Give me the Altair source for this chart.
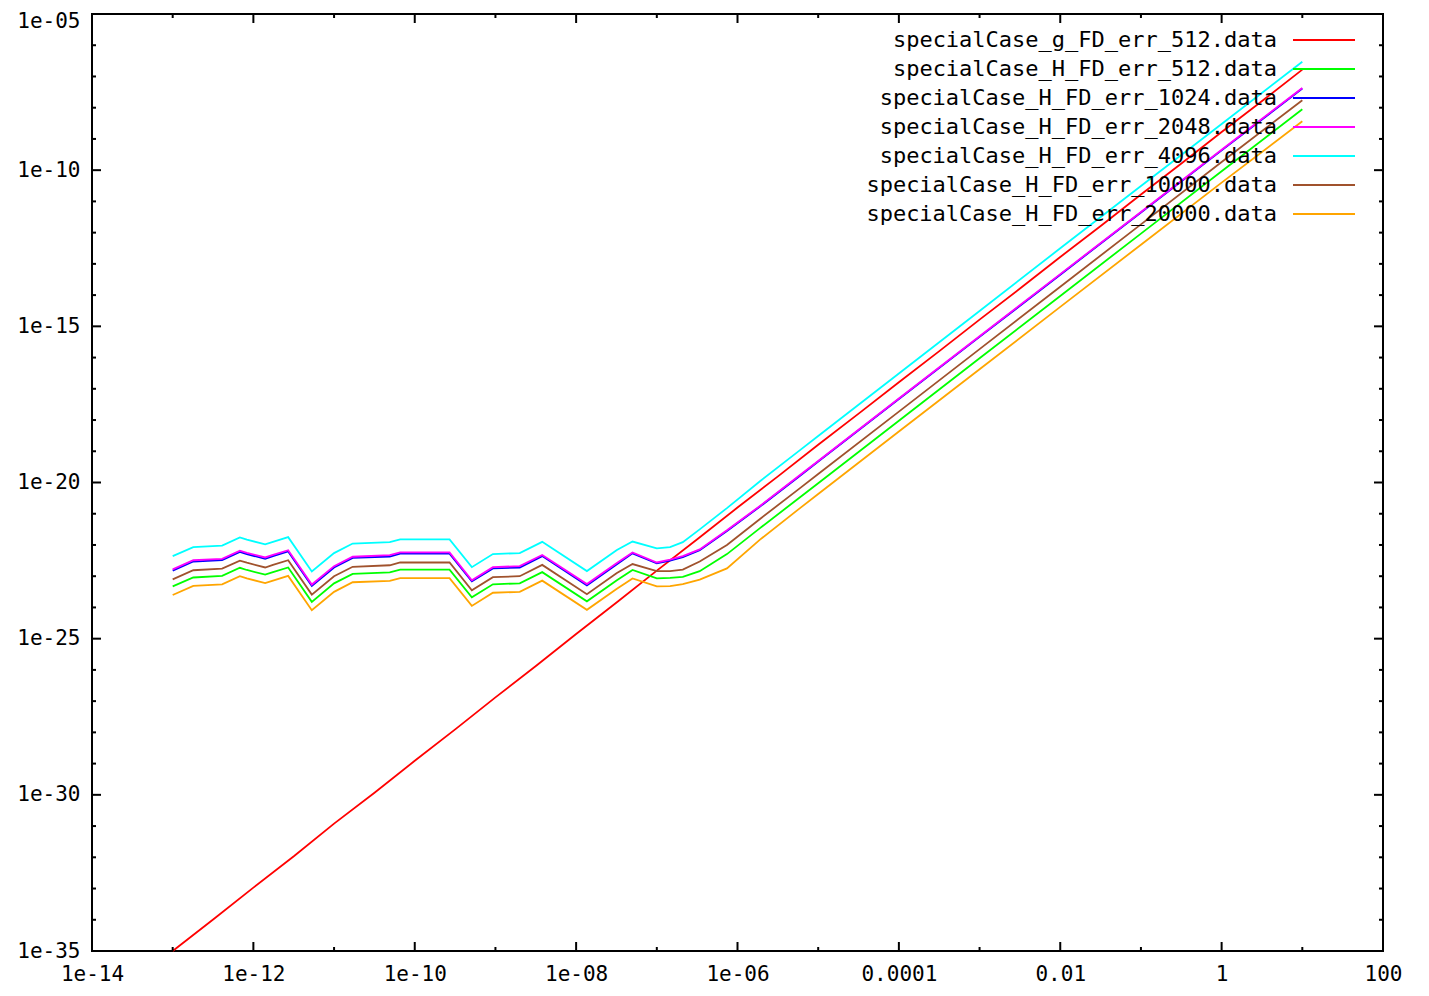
import altair as alt
import pandas as pd

FONT = "DejaVu Sans Mono"

# ---- data ----
labels = [
    "specialCase_g_FD_err_512.data",
    "specialCase_H_FD_err_512.data",
    "specialCase_H_FD_err_1024.data",
    "specialCase_H_FD_err_2048.data",
    "specialCase_H_FD_err_4096.data",
    "specialCase_H_FD_err_10000.data",
    "specialCase_H_FD_err_20000.data",
]
colors = ["#ff0000", "#00ff00", "#0000ff", "#ff00ff", "#00ffff", "#a0522d", "#ffa500"]

g_x = [1e-13, 3.2e-13, 1e-12, 3.2e-12, 1e-11, 3.2e-11, 1e-10, 3.2e-10, 1e-9, 3.2e-9,
       1e-8, 3.2e-8, 1e-7, 3.2e-7, 1e-6, 3.2e-6, 1e-5, 3.2e-5, 1e-4, 3.2e-4,
       1e-3, 3.2e-3, 1e-2, 3.2e-2, 0.1, 0.32, 1.0, 3.2, 10.0]
g512 = [1.0e-35, 1.04e-34, 1.07e-33, 1.1e-32, 1.2e-31, 1.19e-30, 1.23e-29, 1.27e-28, 1.32e-27, 1.36e-26,
        1.41e-25, 1.46e-24, 1.51e-23, 1.55e-22, 1.58e-21, 1.6e-20, 1.62e-19, 1.63e-18, 1.62e-17, 1.64e-16,
        1.64e-15, 1.65e-14, 1.66e-13, 1.66e-12, 1.66e-11, 1.67e-10, 1.67e-9, 1.67e-8, 1.66e-7]

h_x = [1e-13, 1.8e-13, 4.1e-13, 6.8e-13, 8.3e-13, 1.4e-12, 1.75e-12, 2.7e-12, 5.3e-12, 1.0e-11,
       1.7e-11, 4.9e-11, 6.6e-11, 2.7e-10, 5.1e-10, 9.3e-10, 2.0e-9, 3.8e-9, 1.36e-8, 3.2e-8,
       5.0e-8, 1.0e-7, 1.46e-7, 2.1e-7, 3.4e-7, 7.4e-7, 1.9e-6, 5.9e-6, 1e-5, 1e-4,
       1e-3, 1e-2, 1e-1, 1.0, 10.0]
h512 = [4.7e-24, 9.1e-24, 1.02e-23, 1.86e-23, 1.58e-23, 1.12e-23, 1.35e-23, 1.9e-23, 1.51e-24, 5.9e-24,
        1.19e-23, 1.32e-23, 1.62e-23, 1.62e-23, 2.1e-24, 5.5e-24, 5.9e-24, 1.35e-23, 1.57e-24, 7.4e-24,
        1.58e-23, 8.5e-24, 8.9e-24, 9.5e-24, 1.45e-23, 5.1e-23, 3.47e-22, 3.3e-21, 9.5e-21, 9.5e-19,
        9.5e-17, 9.4e-15, 9.3e-13, 9.2e-11, 8.9e-9]
h1024 = [1.51e-23, 2.95e-23, 3.3e-23, 6.0e-23, 5.1e-23, 3.6e-23, 4.4e-23, 6.2e-23, 4.9e-24, 1.9e-23,
         3.85e-23, 4.27e-23, 5.25e-23, 5.25e-23, 6.8e-24, 1.78e-23, 1.9e-23, 4.4e-23, 5.1e-24, 2.4e-23,
         5.4e-23, 2.57e-23, 3.16e-23, 4.07e-23, 6.8e-23, 2.8e-22, 1.7e-21, 1.62e-20, 4.7e-20, 4.7e-18,
         4.6e-16, 4.5e-14, 4.4e-12, 4.3e-10, 4.1e-8]
h2048 = [1.66e-23, 3.24e-23, 3.6e-23, 6.6e-23, 5.6e-23, 3.98e-23, 4.8e-23, 6.8e-23, 5.4e-24, 2.1e-23,
         4.2e-23, 4.7e-23, 5.75e-23, 5.75e-23, 7.4e-24, 1.95e-23, 2.1e-23, 4.8e-23, 5.6e-24, 2.63e-23,
         5.75e-23, 2.75e-23, 3.4e-23, 4.4e-23, 7.2e-23, 2.95e-22, 1.78e-21, 1.7e-20, 4.9e-20, 4.9e-18,
         4.8e-16, 4.7e-14, 4.6e-12, 4.5e-10, 4.3e-8]
h4096 = [4.4e-23, 8.5e-23, 9.5e-23, 1.74e-22, 1.48e-22, 1.05e-22, 1.26e-22, 1.78e-22, 1.41e-23, 5.5e-23,
         1.11e-22, 1.23e-22, 1.51e-22, 1.51e-22, 1.95e-23, 5.1e-23, 5.5e-23, 1.26e-22, 1.46e-23, 6.9e-23,
         1.29e-22, 7.8e-23, 8.5e-23, 1.23e-22, 3.16e-22, 1.51e-21, 1.10e-20, 1.07e-19, 3.1e-19, 3.1e-17,
         3.1e-15, 3.16e-13, 3.1e-11, 3.0e-9, 2.95e-7]
h10000 = [7.9e-24, 1.55e-23, 1.74e-23, 3.16e-23, 2.7e-23, 1.9e-23, 2.3e-23, 3.24e-23, 2.57e-24, 1.0e-23,
          2.0e-23, 2.24e-23, 2.75e-23, 2.75e-23, 3.55e-24, 9.3e-24, 1.0e-23, 2.3e-23, 2.66e-24, 1.26e-23,
          2.45e-23, 1.45e-23, 1.45e-23, 1.62e-23, 2.95e-23, 1.0e-22, 6.8e-22, 6.5e-21, 1.86e-20, 1.86e-18,
          1.86e-16, 1.85e-14, 1.84e-12, 1.83e-10, 1.74e-8]
h20000 = [2.5e-24, 4.9e-24, 5.5e-24, 1.0e-23, 8.5e-24, 6.0e-24, 7.2e-24, 1.02e-23, 8.1e-25, 3.16e-24,
          6.4e-24, 7.1e-24, 8.7e-24, 8.7e-24, 1.12e-24, 2.95e-24, 3.16e-24, 7.2e-24, 8.4e-25, 3.98e-24,
          8.5e-24, 4.7e-24, 4.8e-24, 5.6e-24, 7.8e-24, 1.78e-23, 1.48e-22, 1.48e-21, 4.27e-21, 4.27e-19,
          4.2e-17, 4.2e-15, 4.1e-13, 4.0e-11, 3.7e-9]

series_x = [g_x, h_x, h_x, h_x, h_x, h_x, h_x]
series_y = [g512, h512, h1024, h2048, h4096, h10000, h20000]

x_label_vals = [1e-14, 1e-12, 1e-10, 1e-8, 1e-6, 1e-4, 1e-2, 1.0, 100.0]
x_label_text = ["1e-14", "1e-12", "1e-10", "1e-08", "1e-06", "0.0001", "0.01", "1", "100"]
x_minor_vals = [1e-13, 1e-11, 1e-9, 1e-7, 1e-5, 1e-3, 1e-1, 10.0]
y_label_vals = [1e-35, 1e-30, 1e-25, 1e-20, 1e-15, 1e-10, 1e-5]
y_label_text = ["1e-35", "1e-30", "1e-25", "1e-20", "1e-15", "1e-10", "1e-05"]
y_minor_vals = [1e-6, 1e-7, 1e-8, 1e-9, 1e-11, 1e-12, 1e-13, 1e-14, 1e-16, 1e-17, 1e-18, 1e-19,
                1e-21, 1e-22, 1e-23, 1e-24, 1e-26, 1e-27, 1e-28, 1e-29, 1e-31, 1e-32, 1e-33, 1e-34]

W, H = 1291, 937


def label_expr(vals, texts):
    expr = "''"
    for v, t in reversed(list(zip(vals, texts))):
        expr = f"datum.value < {v * 3:.3g} ? '{t}' : ({expr})"
    return expr


xscale = alt.Scale(type="log", domain=[1e-14, 100], nice=False)
yscale = alt.Scale(type="log", domain=[1e-35, 1e-5], nice=False)
xaxis = alt.Axis(values=x_label_vals, labelExpr=label_expr(x_label_vals, x_label_text),
                 ticks=False, domain=False, grid=False, title=None, labelPadding=12,
                 labelFlush=False, labelOverlap=False, labelBound=False)
yaxis = alt.Axis(values=y_label_vals, labelExpr=label_expr(y_label_vals, y_label_text),
                 ticks=False, domain=False, grid=False, title=None, labelPadding=12,
                 labelFlush=False, labelOverlap=False, labelBound=False, labelBaseline="middle",
                 labelOffset={"condition": {"test": "datum.value > 5e-6", "value": 7}, "value": 0})
xenc = alt.X("x:Q", scale=xscale, axis=xaxis)
yenc = alt.Y("y:Q", scale=yscale, axis=yaxis)

layers = []
for xs, ys, c in zip(series_x, series_y, colors):
    df = pd.DataFrame({"x": xs, "y": ys})
    layers.append(alt.Chart(df).mark_line(color=c, strokeWidth=1.8).encode(x=xenc, y=yenc))

# inward ticks on all four sides (gnuplot style)
xmaj = pd.DataFrame({"x": x_label_vals})
xmin = pd.DataFrame({"x": x_minor_vals})
ymaj = pd.DataFrame({"y": y_label_vals})
ymin = pd.DataFrame({"y": y_minor_vals})
tick = dict(color="black", strokeWidth=2)
for df, ln in [(xmaj, 9), (xmin, 4)]:
    layers.append(alt.Chart(df).mark_rule(**tick).encode(x=xenc, y=alt.value(H), y2=alt.value(H - ln)))
    layers.append(alt.Chart(df).mark_rule(**tick).encode(x=xenc, y=alt.value(0), y2=alt.value(ln)))
for df, ln in [(ymaj, 9), (ymin, 4)]:
    layers.append(alt.Chart(df).mark_rule(**tick).encode(y=yenc, x=alt.value(0), x2=alt.value(ln)))
    layers.append(alt.Chart(df).mark_rule(**tick).encode(y=yenc, x=alt.value(W), x2=alt.value(W - ln)))

main = alt.layer(*layers)

# key, gnuplot style: text then sample line
leg_df = pd.DataFrame({"label": labels, "rank": list(range(len(labels)))})
legy = alt.Y("rank:Q", axis=None, scale=alt.Scale(domain=[0, 6], range=[26, 200], nice=False, zero=False))
leg_text = alt.Chart(leg_df).mark_text(align="right", baseline="middle", font=FONT,
                                       fontSize=22, color="black").encode(
    x=alt.value(1185), y=legy, text="label:N")
leg_line = alt.Chart(leg_df).mark_rule(strokeWidth=1.8).encode(
    x=alt.value(1201), x2=alt.value(1263), y=legy,
    color=alt.Color("label:N", scale=alt.Scale(domain=labels, range=colors), legend=None))
legend = alt.layer(leg_text, leg_line)

chart = alt.layer(main, legend).resolve_scale(y="independent").properties(
    width=W, height=H,
    autosize=alt.AutoSizeParams(type="none"),
    padding={"left": 84, "top": 6, "right": 30, "bottom": 37},
    background="white",
).configure_view(stroke="black", strokeWidth=2).configure_axis(
    labelFont=FONT, labelFontSize=21, labelColor="black")

chart.save("out.html", embed_options={"renderer": "svg", "actions": False})
